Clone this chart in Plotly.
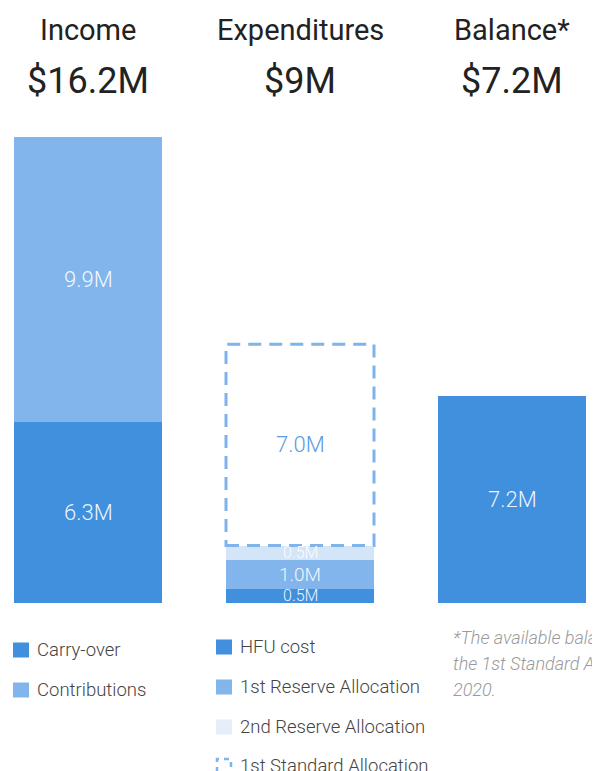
import plotly.graph_objects as go

# ---------------- data ----------------
columns = ["Income", "Expenditures", "Balance*"]
column_totals = ["$16.2M", "$9M", "$7.2M"]

income_labels = ["Carry-over", "Contributions"]
income_values = [6.3, 9.9]

exp_labels = ["HFU cost", "1st Reserve Allocation", "2nd Reserve Allocation"]
exp_values = [0.5, 1.0, 0.5]

standard_label = "1st Standard Allocation"
standard_value = 7.0

balance_label = "Balance"
balance_value = 7.2

footnote_lines = ["*The available balance is earmarked for",
                  "the 1st Standard Allocation launched in",
                  "2020."]

# ---------------- style ----------------
DARK = "#4190de"
MID = "#82b5eb"
LIGHT = "#d4e5f7"
LIGHT_SWATCH = "#e6eefa"
DASH = "#7fb3ea"
FONT = "Roboto"

OFF = 8                          # page body margin
W, H = 600 - OFF, 771 - OFF
TOP, BOTTOM = 120, 603           # plot area in page pixels
PX_PER_CAT = 212
CENTER0 = 88                     # page x of first bar centre
BAR_W = 148 / PX_PER_CAT
PX_PER_M = 28.75

def py(p):  # page pixel y -> paper y
    return (BOTTOM - p) / (BOTTOM - TOP)

def px(p):  # page pixel x -> paper x
    return (p - OFF) / W

fig = go.Figure()

inc_colors = [DARK, MID]
for lab, val, col in zip(income_labels, income_values, inc_colors):
    fig.add_trace(go.Bar(x=[0], y=[val], name=lab, marker_color=col,
                         width=BAR_W, marker_line_width=0, hoverinfo="skip"))

exp_colors = [DARK, MID, LIGHT]
for lab, val, col in zip(exp_labels, exp_values, exp_colors):
    fig.add_trace(go.Bar(x=[1], y=[val], name=lab, marker_color=col,
                         width=BAR_W, marker_line_width=0, hoverinfo="skip"))

fig.add_trace(go.Bar(x=[2], y=[balance_value], name=balance_label,
                     marker_color=DARK, width=BAR_W, marker_line_width=0,
                     hoverinfo="skip"))

annotations = []
shapes = []

def seg_label(x, base, val, size, color="rgba(255,255,255,0.92)"):
    annotations.append(dict(x=x, y=base + val / 2, xref="x", yref="y",
                            text=f"{val:.1f}M", showarrow=False,
                            font=dict(family=FONT, size=size, color=color,
                                      weight=300)))

base = 0
for val in income_values:
    seg_label(0, base, val, 22)
    base += val

base = 0
for val in exp_values:
    seg_label(1, base, val, 19 if val >= 1 else 16)
    base += val

std_base = sum(exp_values)
shapes.append(dict(type="rect", xref="x", yref="y",
                   x0=1 - BAR_W / 2, x1=1 + BAR_W / 2,
                   y0=std_base, y1=std_base + standard_value,
                   line=dict(color=DASH, width=3, dash="13px,8px"),
                   fillcolor="rgba(0,0,0,0)"))
seg_label(1, std_base, standard_value, 22, color="#5a9be2")

seg_label(2, 0, balance_value, 22)

for i, (t, v) in enumerate(zip(columns, column_totals)):
    annotations.append(dict(x=i, y=py(30), xref="x", yref="paper", text=t,
                            showarrow=False, yanchor="middle",
                            font=dict(family=FONT, size=29, color="#222222")))
    annotations.append(dict(x=i, y=py(81), xref="x", yref="paper", text=v,
                            showarrow=False, yanchor="middle",
                            font=dict(family=FONT, size=36, color="#222222")))

def legend_item(x_sw, y_c, label, color=None, dashed=False):
    if dashed:
        shapes.append(dict(type="rect", xref="paper", yref="paper",
                           x0=px(x_sw + 1), x1=px(x_sw + 15),
                           y0=py(y_c + 7), y1=py(y_c - 7),
                           line=dict(color=DASH, width=2.5, dash="5px,5px"),
                           fillcolor="rgba(0,0,0,0)"))
    else:
        shapes.append(dict(type="rect", xref="paper", yref="paper",
                           x0=px(x_sw), x1=px(x_sw + 16),
                           y0=py(y_c + 7.5), y1=py(y_c - 7.5),
                           line_width=0, fillcolor=color))
    annotations.append(dict(x=px(x_sw + 22), y=py(y_c), xref="paper",
                            yref="paper", text=label, showarrow=False,
                            xanchor="left", yanchor="middle",
                            font=dict(family=FONT, size=18.5, color="#444444",
                                      weight=300)))

for i, (lab, col) in enumerate(zip(income_labels, inc_colors)):
    legend_item(13, 650 + 40 * i, lab, col)

exp_sw_colors = [DARK, MID, LIGHT_SWATCH]
for i, (lab, col) in enumerate(zip(exp_labels, exp_sw_colors)):
    legend_item(216, 647 + 40 * i, lab, col)
legend_item(216, 766, standard_label, dashed=True)

for i, line in enumerate(footnote_lines):
    annotations.append(dict(x=px(451), y=py(637 + 26 * i), xref="paper",
                            yref="paper", text=f"<i>{line}</i>",
                            showarrow=False, xanchor="left", yanchor="middle",
                            font=dict(family=FONT, size=18, color="#9a9a9a",
                                      weight=300)))

fig.update_layout(
    width=W, height=H, barmode="stack", showlegend=False,
    margin=dict(l=0, r=0, t=TOP - OFF, b=H - (BOTTOM - OFF), pad=0),
    paper_bgcolor="white", plot_bgcolor="white",
    xaxis=dict(range=[-(CENTER0 - OFF) / PX_PER_CAT,
                      (600 - CENTER0) / PX_PER_CAT],
               visible=False, fixedrange=True),
    yaxis=dict(range=[0, (BOTTOM - TOP) / PX_PER_M], visible=False,
               fixedrange=True),
    annotations=annotations, shapes=shapes,
)

fig.write_html("out.html", config={"displayModeBar": False})
